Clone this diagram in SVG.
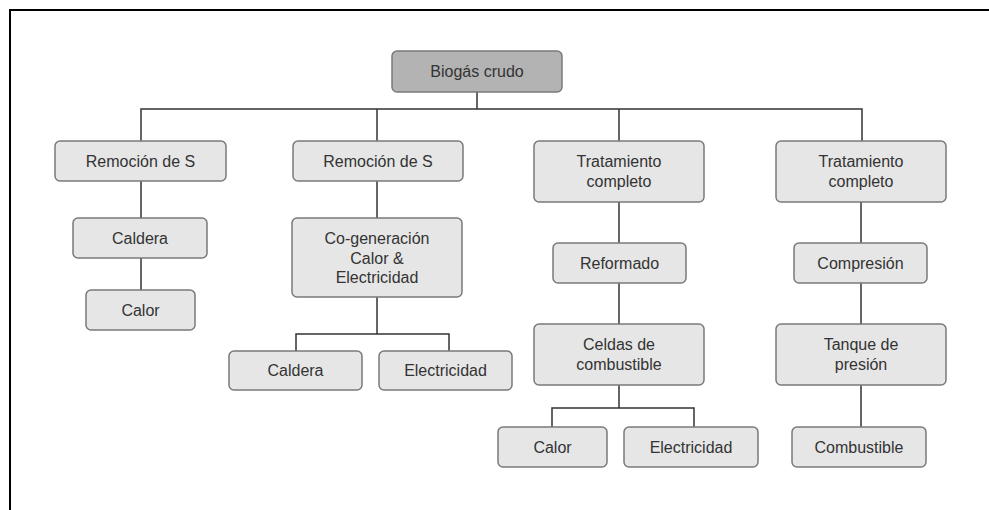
<svg xmlns="http://www.w3.org/2000/svg" width="989" height="510" viewBox="0 0 989 510">
<style>
.n rect{fill:#e6e6e6;stroke:#7a7a7a;stroke-width:1.5}
.top rect{fill:#b3b3b3;stroke:#7a7a7a;stroke-width:1.5}
text{font-family:"Liberation Sans",Arial,sans-serif;font-size:16px;fill:#333;text-anchor:middle}
.c path{fill:none;stroke:#333;stroke-width:1.5}
</style>
<rect width="989" height="510" fill="#fff"/>
<path d="M10 510 V10 H989" fill="none" stroke="#000" stroke-width="2"/>
<g class="c" id="connectors">
<path d="M477 92 V109 M141 141 V109 H862 V141 M377 109 V141 M619 109 V141"/>
<path d="M141 181 V218 M141 258 V290"/>
<path d="M377 181 V218 M377 297 V334 M296 351 V334 H449 V351"/>
<path d="M619 202 V243 M619 283 V324 M619 385 V408 M552 427 V408 H694 V427"/>
<path d="M861 202 V243 M861 283 V324 M861 385 V427"/>
</g>
<g class="top" id="n0"><rect x="392" y="51" width="170" height="41" rx="5"/><text x="477" y="77">Biogás crudo</text></g>
<g class="n" id="n1"><rect x="55" y="141" width="171" height="40" rx="5"/><text x="140.5" y="166.5">Remoción de S</text></g>
<g class="n" id="n2"><rect x="73" y="218" width="134" height="40" rx="5"/><text x="140" y="243.5">Caldera</text></g>
<g class="n" id="n3"><rect x="86" y="290" width="109" height="40" rx="5"/><text x="140.5" y="315.5">Calor</text></g>
<g class="n" id="n4"><rect x="293" y="141" width="170" height="40" rx="5"/><text x="378" y="166.5">Remoción de S</text></g>
<g class="n" id="n5"><rect x="292" y="218" width="170" height="79" rx="5"/><text x="377" y="244">Co-generación</text><text x="377" y="263.5">Calor &amp;</text><text x="377" y="283">Electricidad</text></g>
<g class="n" id="n6"><rect x="229" y="351" width="133" height="39" rx="5"/><text x="295.5" y="376">Caldera</text></g>
<g class="n" id="n7"><rect x="379" y="351" width="133" height="39" rx="5"/><text x="445.5" y="376">Electricidad</text></g>
<g class="n" id="n8"><rect x="534" y="141" width="170" height="61" rx="5"/><text x="619" y="167">Tratamiento</text><text x="619" y="186.5">completo</text></g>
<g class="n" id="n9"><rect x="553" y="243" width="133" height="40" rx="5"/><text x="619.5" y="268.5">Reformado</text></g>
<g class="n" id="n10"><rect x="534" y="324" width="170" height="61" rx="5"/><text x="619" y="350">Celdas de</text><text x="619" y="369.5">combustible</text></g>
<g class="n" id="n11"><rect x="498" y="427" width="109" height="40" rx="5"/><text x="552.5" y="452.5">Calor</text></g>
<g class="n" id="n12"><rect x="624" y="427" width="134" height="40" rx="5"/><text x="691" y="452.5">Electricidad</text></g>
<g class="n" id="n13"><rect x="776" y="141" width="170" height="61" rx="5"/><text x="861" y="167">Tratamiento</text><text x="861" y="186.5">completo</text></g>
<g class="n" id="n14"><rect x="794" y="243" width="133" height="40" rx="5"/><text x="860.5" y="268.5">Compresión</text></g>
<g class="n" id="n15"><rect x="776" y="324" width="170" height="61" rx="5"/><text x="861" y="350">Tanque de</text><text x="861" y="369.5">presión</text></g>
<g class="n" id="n16"><rect x="792" y="427" width="134" height="40" rx="5"/><text x="859" y="452.5">Combustible</text></g>
</svg>
